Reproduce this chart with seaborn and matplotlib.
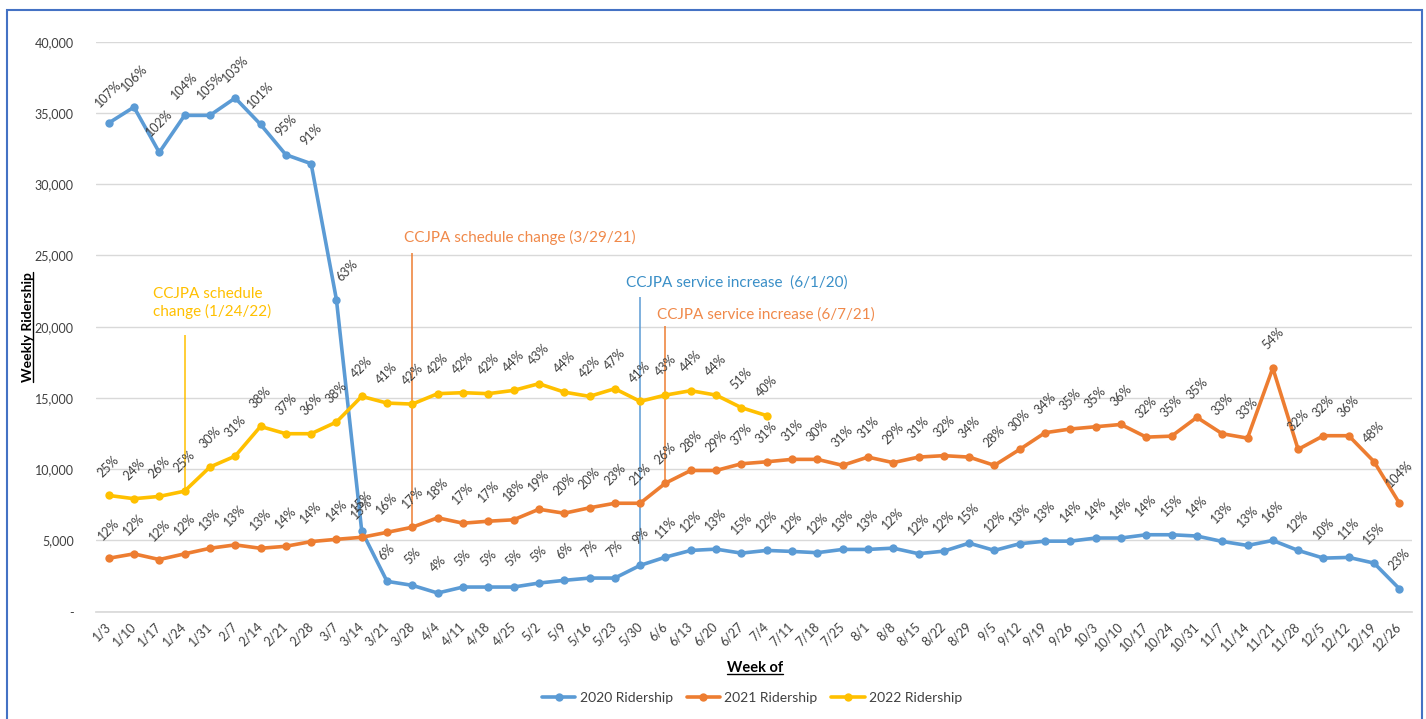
import numpy as np
import pandas as pd
import matplotlib
matplotlib.use("Agg")
import matplotlib.pyplot as plt
import seaborn as sns
from matplotlib.lines import Line2D
from matplotlib.patches import Rectangle

# ---------------- data ----------------
weeks = ["1/3", "1/10", "1/17", "1/24", "1/31", "2/7", "2/14", "2/21", "2/28", "3/7",
         "3/14", "3/21", "3/28", "4/4", "4/11", "4/18", "4/25", "5/2", "5/9", "5/16",
         "5/23", "5/30", "6/6", "6/13", "6/20", "6/27", "7/4", "7/11", "7/18", "7/25",
         "8/1", "8/8", "8/15", "8/22", "8/29", "9/5", "9/12", "9/19", "9/26", "10/3",
         "10/10", "10/17", "10/24", "10/31", "11/7", "11/14", "11/21", "11/28", "12/5",
         "12/12", "12/19", "12/26"]

ridership_2020 = [34290, 35410, 32230, 34830, 34830, 36050, 34200, 32070, 31440, 21900,
                  5660, 2130, 1850, 1310, 1730, 1730, 1730, 2010, 2200, 2360,
                  2360, 3250, 3830, 4300, 4390, 4110, 4300, 4230, 4140, 4370,
                  4370, 4460, 4070, 4250, 4810, 4300, 4770, 4950, 4950, 5170,
                  5170, 5400, 5400, 5310, 4930, 4650, 5000, 4300, 3760, 3810,
                  3410, 1610]

ridership_2021 = [3750, 4060, 3660, 4060, 4450, 4690, 4450, 4590, 4920, 5080,
                  5220, 5570, 5930, 6590, 6210, 6350, 6450, 7190, 6910, 7290,
                  7610, 7610, 9020, 9910, 9910, 10380, 10520, 10690, 10690, 10270,
                  10850, 10460, 10850, 10950, 10850, 10270, 11390, 12560, 12820, 12980,
                  13140, 12250, 12320, 13640, 12490, 12180, 17100, 11390, 12350, 12350,
                  10530, 7620]

ridership_2022 = [8160, 7930, 8090, 8460, 10150, 10920, 13000, 12490, 12490, 13310,
                  15110, 14640, 14570, 15300, 15370, 15300, 15530, 16000, 15410, 15110,
                  15650, 14760, 15200, 15510, 15200, 14320, 13760]

pct_2020 = [107, 106, 102, 104, 105, 103, 101, 95, 91, 63,
            15, 6, 5, 4, 5, 5, 5, 5, 6, 7,
            7, 9, 11, 12, 13, 15, 12, 12, 12, 13,
            13, 12, 12, 12, 15, 12, 13, 13, 14, 14,
            14, 14, 15, 14, 13, 13, 16, 12, 10, 11,
            15, 23]

pct_2021 = [12, 12, 12, 12, 13, 13, 13, 14, 14, 14,
            15, 16, 17, 18, 17, 17, 18, 19, 20, 20,
            23, 21, 26, 28, 29, 37, 31, 31, 30, 31,
            31, 29, 31, 32, 34, 28, 30, 34, 35, 35,
            36, 32, 35, 35, 33, 33, 54, 32, 32, 36,
            48, 104]

pct_2022 = [25, 24, 26, 25, 30, 31, 38, 37, 36, 38,
            42, 41, 42, 42, 42, 42, 44, 43, 44, 42,
            47, 41, 43, 44, 44, 51, 40]

series_names = ["2020 Ridership", "2021 Ridership", "2022 Ridership"]
y_ticks = [0, 5000, 10000, 15000, 20000, 25000, 30000, 35000, 40000]
y_tick_labels = ["-", "5,000", "10,000", "15,000", "20,000", "25,000", "30,000", "35,000", "40,000"]

# event markers: (week index, series index, top value, text, text x, text y, line colour, text colour)
events = [
    (3, 2, 19450, "CCJPA schedule\nchange (1/24/22)", 1.75, 21640, "#FFC000", "#FFC000"),
    (12, 1, 25140, "CCJPA schedule change (3/29/21)", 11.66, 26290, "#ED7D31", "#F0894A"),
    (21, 0, 22050, "CCJPA service increase  (6/1/20)", 20.46, 23130, "#5B9BD5", "#3A8FC7"),
    (22, 1, 20020, "CCJPA service increase (6/7/21)", 21.65, 20880, "#ED7D31", "#F0894A"),
]

colors = ["#5B9BD5", "#ED7D31", "#FFC000"]

# ---------------- figure ----------------
sns.set_theme(style="white")
plt.rcParams["font.family"] = ["Lato", "DejaVu Sans"]

W, H = 1426, 719
fig = plt.figure(figsize=(W / 100, H / 100), dpi=100)
fig.patch.set_facecolor("white")
ax = fig.add_axes([96 / W, 1 - 611.7 / H, (1412 - 96) / W, (611.7 - 41.7) / H])

all_values = [ridership_2020, ridership_2021, ridership_2022]
all_pcts = [pct_2020, pct_2021, pct_2022]

for name, vals, col in zip(series_names, all_values, colors):
    df = pd.DataFrame({"week": np.arange(len(vals)), "riders": vals})
    sns.lineplot(data=df, x="week", y="riders", ax=ax, color=col, marker="o",
                 markersize=6, linewidth=2.6, markeredgewidth=0, label=name,
                 sort=False, zorder=3)

if ax.get_legend() is not None:
    ax.get_legend().remove()

# data labels
for si, (vals, pcts) in enumerate(zip(all_values, all_pcts)):
    for i, (v, p) in enumerate(zip(vals, pcts)):
        dx = 8 if (si == 0 and i == 9) else 0
        ax.annotate(f"{p}%", (i, v), xytext=(dx, 21), textcoords="offset points",
                    rotation=45, ha="center", va="center", fontsize=9,
                    color="#404040", zorder=4)

# event lines and texts
for wk, si, top, txt, tx, ty, lcol, tcol in events:
    ax.vlines(wk, all_values[si][wk], top, color=lcol, lw=1.1, zorder=2)
    ax.text(tx, ty, txt, color=tcol, fontsize=11, ha="left", va="center",
            linespacing=1.25)

# axes formatting
ax.set_xlim(-0.5, len(weeks) - 0.5)
ax.set_ylim(0, 40000)
ax.set_yticks(y_ticks)
ax.set_yticklabels(y_tick_labels, fontsize=9, color="#404040")
ax.set_xticks(np.arange(len(weeks)))
ax.set_xticklabels(weeks, rotation=45, ha="right", va="center",
                   rotation_mode="anchor", fontsize=9, color="#404040")
ax.tick_params(axis="y", length=0, pad=16)
ax.tick_params(axis="x", length=0, pad=9)
ax.grid(axis="y", color="#D9D9D9", lw=1)
ax.grid(axis="x", visible=False)
ax.set_axisbelow(True)
for s in ["left", "right", "top"]:
    ax.spines[s].set_visible(False)
ax.spines["bottom"].set_color("#D9D9D9")
ax.set_xlabel("")
ax.set_ylabel("")

# axis titles (underlined)
ytxt = fig.text(28 / W, 1 - 327 / H, "Weekly Ridership", rotation=90, ha="center",
                va="center", fontsize=10, fontweight="bold", color="#000000")
xtxt = fig.text(755 / W, 1 - 668 / H, "Week of", ha="center", va="center",
                fontsize=10.5, fontweight="bold", color="#000000")

# legend
handles = [Line2D([0], [0], color=c, lw=2.6, marker="o", markersize=6,
                  markeredgewidth=0) for c in colors]
fig.legend(handles, series_names, loc="center", bbox_to_anchor=(752 / W, 1 - 698 / H),
           ncol=3, frameon=False, fontsize=10, handlelength=2.4,
           columnspacing=1.0, handletextpad=0.3, labelcolor="#404040")

# chart border
fig.add_artist(Rectangle((7 / W, -0.02), (1422 - 7) / W, (719 - 10) / H + 0.02,
                         transform=fig.transFigure, fill=False,
                         edgecolor="#4472C4", lw=1.5, clip_on=False))

# underline axis titles
fig.canvas.draw()
renderer = fig.canvas.get_renderer()
inv = fig.transFigure.inverted()
bb = xtxt.get_window_extent(renderer)
(x0, y0), (x1, _) = inv.transform([(bb.x0, bb.y0 + 1), (bb.x1, bb.y0 + 1)])
fig.add_artist(Line2D([x0, x1], [y0, y0], color="black", lw=1, transform=fig.transFigure))
bb = ytxt.get_window_extent(renderer)
(x0, y0), (_, y1) = inv.transform([(bb.x1 - 1, bb.y0), (bb.x1 - 1, bb.y1)])
fig.add_artist(Line2D([x0, x0], [y0, y1], color="black", lw=1, transform=fig.transFigure))

fig.savefig("out.png", dpi=100)
